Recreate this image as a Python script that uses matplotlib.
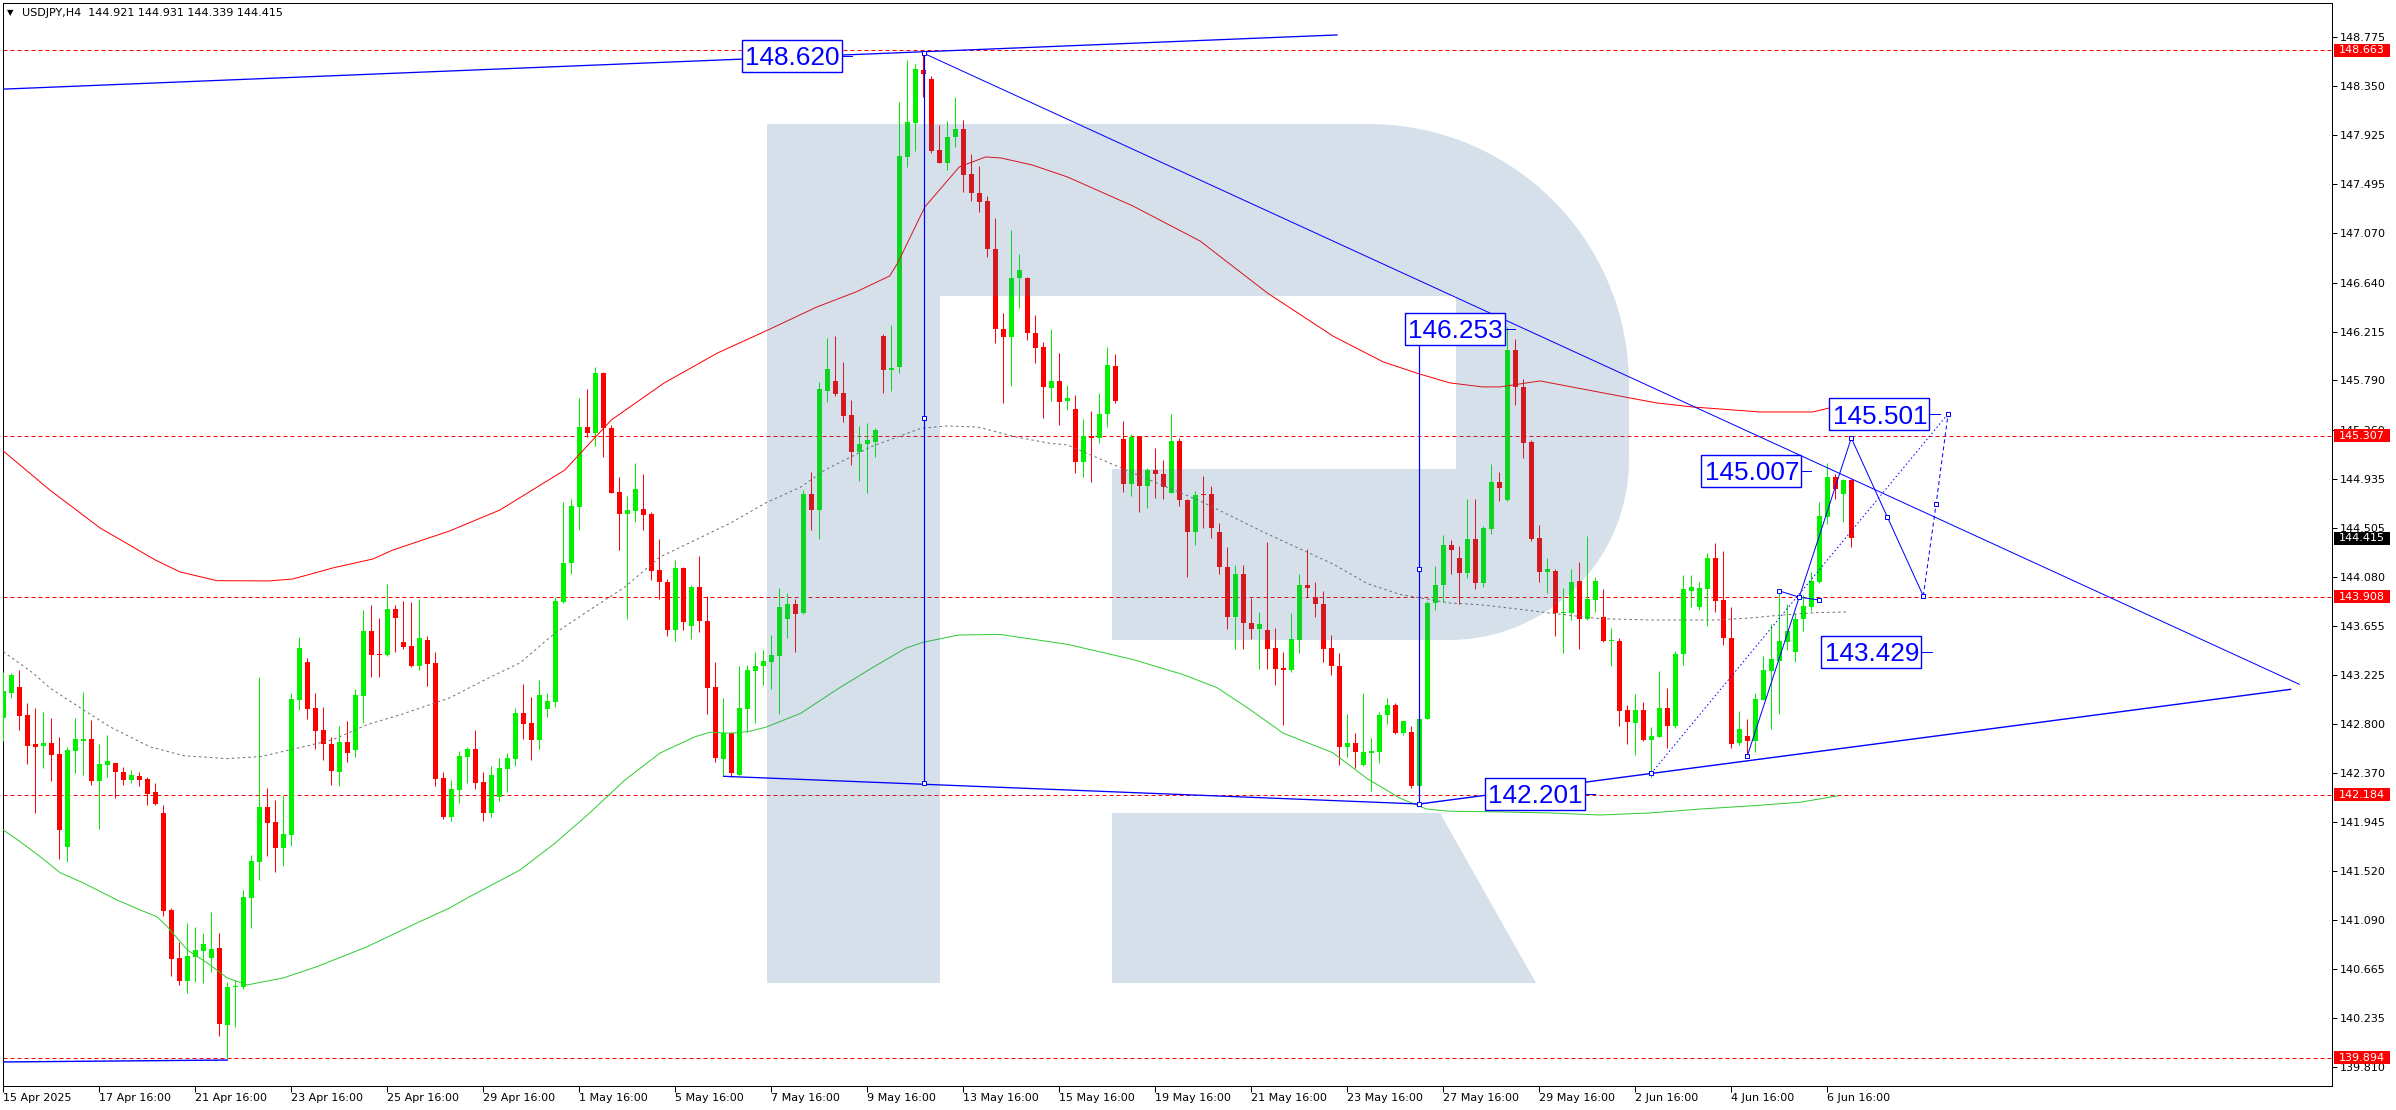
import numpy as np
import matplotlib
matplotlib.use("Agg")
import matplotlib.pyplot as plt
import matplotlib.transforms as mtransforms
from matplotlib.patches import Rectangle, PathPatch
from matplotlib.path import Path

# ---------------- data (USDJPY, H4) ----------------
opens = [
    142.853, 143.071, 143.120, 142.877, 142.624, 142.610, 142.636, 142.537, 141.730, 142.563,
    142.650, 142.668, 142.305, 142.441, 142.459, 142.380, 142.314, 142.346, 142.320, 142.206,
    142.024, 141.179, 140.764, 140.561, 140.773, 140.822, 140.764, 140.851, 140.181, 140.506,
    140.512, 141.286, 141.600, 142.076, 141.945, 141.722, 141.832, 143.007, 143.338, 142.938,
    142.746, 142.624, 142.383, 142.642, 142.572, 143.045, 143.611, 143.408, 143.396, 143.800,
    143.515, 143.477, 143.306, 143.530, 143.329, 142.328, 141.992, 142.224, 142.514, 142.581,
    142.294, 142.027, 142.160, 142.410, 142.497, 142.895, 142.808, 142.662, 142.932, 142.993,
    143.858, 144.200, 144.690, 145.387, 145.329, 145.857, 145.378, 144.818, 144.630, 144.653,
    144.671, 144.627, 144.139, 144.035, 143.620, 144.157, 143.655, 143.991, 143.695, 143.121,
    142.497, 142.718, 142.358, 142.929, 143.263, 143.307, 143.341, 143.394, 143.713, 143.843,
    143.765, 144.801, 144.661, 145.700, 145.784, 145.677, 145.488, 145.169, 145.233, 145.256,
    146.176, 145.880, 145.909, 147.737, 148.033, 148.492, 148.413, 147.795, 147.685, 147.906,
    147.978, 147.586, 147.418, 147.351, 146.936, 146.234, 146.170, 146.678, 146.684, 146.199,
    146.077, 145.727, 145.784, 145.606, 145.542, 145.078, 145.305, 145.289, 145.493, 145.916,
    145.282, 144.889, 145.305, 144.867, 145.010, 144.976, 144.806, 145.259, 144.746, 144.466,
    144.802, 144.802, 144.466, 144.164, 143.727, 144.104, 143.674, 143.625, 143.613, 143.462,
    143.289, 143.266, 143.530, 144.010, 143.900, 143.847, 143.462, 143.304, 142.594, 142.636,
    142.443, 142.549, 142.556, 142.881, 142.964, 142.719, 142.730, 142.262, 142.843, 143.851,
    144.010, 144.361, 144.240, 144.110, 144.406, 144.029, 144.499, 144.905, 144.748, 146.050,
    145.735, 145.256, 144.418, 144.124, 144.133, 143.762, 143.762, 144.043, 143.712, 143.878,
    143.727, 143.524, 143.521, 142.920, 142.810, 142.920, 142.659, 142.688, 142.937, 142.784,
    143.405, 143.959, 143.820, 143.974, 144.246, 143.878, 143.550, 142.630, 142.697, 142.653,
    143.007, 143.263, 143.347, 143.515, 143.428, 143.710, 143.820, 144.037, 144.603, 144.951,
    144.802, 144.921]
highs = [
    143.248, 143.245, 143.268, 142.981, 142.940, 142.903, 142.851, 142.685, 142.601, 142.851,
    143.077, 142.833, 142.624, 142.703, 142.459, 142.424, 142.398, 142.383, 142.340, 142.282,
    142.090, 141.193, 140.903, 141.063, 141.031, 140.976, 141.162, 140.976, 140.555, 140.570,
    141.353, 141.658, 143.207, 142.238, 142.137, 142.177, 143.065, 143.553, 143.376, 143.065,
    142.949, 142.682, 142.781, 142.822, 143.103, 143.791, 143.834, 143.721, 144.020, 143.834,
    143.869, 143.863, 143.889, 143.565, 143.425, 142.383, 142.311, 142.567, 142.601, 142.747,
    142.381, 142.436, 142.506, 142.543, 142.935, 143.147, 143.034, 143.182, 143.069, 143.902,
    144.731, 144.760, 145.633, 145.715, 145.903, 145.860, 145.401, 144.951, 144.786, 145.067,
    144.975, 144.640, 144.409, 144.061, 144.227, 144.169, 144.009, 144.261, 143.913, 143.339,
    143.025, 142.729, 143.304, 143.313, 143.426, 143.443, 143.576, 143.983, 143.939, 143.887,
    144.836, 144.995, 145.779, 146.159, 146.179, 145.950, 145.619, 145.392, 145.416, 145.372,
    146.194, 146.272, 148.216, 148.579, 148.541, 148.663, 148.442, 148.013, 148.051, 148.257,
    148.057, 147.760, 147.656, 147.395, 147.200, 146.373, 147.099, 146.890, 146.693, 146.359,
    146.127, 146.237, 146.029, 145.750, 145.663, 145.456, 145.520, 145.682, 146.082, 146.022,
    145.433, 145.323, 145.305, 145.029, 145.199, 145.093, 145.497, 145.286, 144.753, 144.825,
    144.957, 144.870, 144.549, 144.342, 144.180, 144.180, 143.893, 143.776, 144.383, 143.636,
    143.424, 143.764, 144.104, 144.323, 144.032, 143.953, 143.576, 143.417, 142.888, 142.719,
    143.070, 142.673, 142.907, 143.021, 142.983, 142.821, 142.783, 142.858, 143.870, 144.172,
    144.444, 144.400, 144.351, 144.757, 144.757, 144.525, 145.062, 144.992, 146.253, 146.150,
    145.800, 145.271, 144.528, 144.241, 144.148, 143.979, 144.148, 144.211, 144.435, 144.075,
    143.974, 143.634, 143.547, 142.964, 143.059, 142.990, 142.775, 143.260, 143.109, 143.434,
    144.092, 144.092, 144.037, 144.290, 144.371, 144.301, 143.814, 142.911, 142.842, 143.065,
    143.390, 143.669, 143.959, 143.843, 143.762, 143.924, 144.124, 144.728, 145.073, 144.972,
    144.934, 144.931]
lows = [
    142.653, 143.028, 142.746, 142.453, 142.024, 142.415, 142.305, 141.623, 141.597, 142.375,
    142.351, 142.267, 141.887, 142.340, 142.157, 142.270, 142.285, 142.261, 142.096, 142.093,
    141.130, 140.607, 140.526, 140.460, 140.552, 140.547, 140.642, 140.085, 139.894, 140.158,
    140.494, 141.025, 141.443, 141.652, 141.513, 141.565, 141.739, 142.923, 142.845, 142.581,
    142.488, 142.267, 142.261, 142.468, 142.514, 142.807, 143.210, 143.207, 143.390, 143.425,
    143.454, 143.297, 143.268, 143.132, 142.261, 141.974, 141.950, 142.114, 142.288, 142.236,
    141.957, 141.992, 142.131, 142.210, 142.436, 142.671, 142.488, 142.584, 142.860, 142.947,
    143.852, 144.108, 144.491, 145.300, 145.221, 145.126, 144.806, 144.316, 143.716, 144.560,
    144.491, 144.050, 143.884, 143.562, 143.524, 143.617, 143.542, 143.603, 142.886, 142.468,
    142.343, 142.340, 142.352, 142.732, 142.808, 143.141, 143.103, 142.889, 143.550, 143.426,
    143.756, 144.491, 144.412, 145.604, 145.657, 145.430, 145.053, 144.917, 144.806, 145.126,
    145.683, 145.700, 145.857, 147.644, 147.790, 148.260, 147.772, 147.679, 147.621, 147.824,
    147.433, 147.354, 147.258, 146.861, 146.112, 145.590, 145.741, 146.423, 146.141, 145.938,
    145.465, 145.614, 145.399, 145.531, 144.984, 144.946, 144.904, 145.248, 145.388, 145.595,
    144.821, 144.784, 144.644, 144.678, 144.769, 144.761, 144.806, 144.693, 144.078, 144.353,
    144.504, 144.417, 144.108, 143.628, 143.447, 143.455, 143.542, 143.274, 143.274, 143.134,
    142.794, 143.247, 143.417, 143.900, 143.727, 143.341, 143.221, 142.443, 142.511, 142.417,
    142.436, 142.217, 142.462, 142.802, 142.707, 142.700, 142.239, 142.140, 142.843, 143.794,
    143.863, 144.100, 143.843, 144.066, 143.974, 143.994, 144.450, 144.737, 144.740, 145.575,
    145.117, 144.394, 144.032, 143.942, 143.564, 143.419, 143.704, 143.454, 143.704, 143.776,
    143.512, 143.306, 142.781, 142.621, 142.528, 142.650, 142.340, 142.682, 142.592, 142.760,
    143.312, 143.820, 143.791, 143.654, 143.776, 143.486, 142.592, 142.615, 142.528, 142.557,
    143.007, 142.758, 142.882, 143.442, 143.341, 143.611, 143.782, 144.023, 144.537, 144.758,
    144.560, 144.339]
closes = [
    143.086, 143.225, 142.871, 142.610, 142.601, 142.633, 142.531, 141.878, 142.572, 142.665,
    142.668, 142.305, 142.450, 142.476, 142.383, 142.314, 142.351, 142.314, 142.192, 142.102,
    141.173, 140.755, 140.564, 140.779, 140.831, 140.883, 140.842, 140.184, 140.506, 140.517,
    141.289, 141.606, 142.076, 141.939, 141.722, 141.841, 143.016, 143.460, 142.929, 142.737,
    142.624, 142.389, 142.642, 142.549, 143.051, 143.611, 143.402, 143.396, 143.800, 143.724,
    143.469, 143.303, 143.547, 143.324, 142.322, 141.986, 142.233, 142.520, 142.581, 142.288,
    142.027, 142.355, 142.416, 142.503, 142.895, 142.802, 142.660, 143.051, 142.999, 143.870,
    144.200, 144.697, 145.387, 145.335, 145.857, 145.372, 144.812, 144.624, 144.662, 144.845,
    144.621, 144.134, 144.038, 143.620, 144.157, 143.690, 143.991, 143.698, 143.115, 142.506,
    142.718, 142.375, 142.938, 143.269, 143.304, 143.347, 143.402, 143.817, 143.843, 143.759,
    144.801, 144.665, 145.712, 145.889, 145.668, 145.480, 145.169, 145.236, 145.271, 145.358,
    145.880, 145.900, 147.743, 148.039, 148.500, 148.454, 147.790, 147.685, 147.908, 147.978,
    147.578, 147.424, 147.346, 146.931, 146.234, 146.170, 146.681, 146.751, 146.199, 146.075,
    145.735, 145.784, 145.599, 145.637, 145.078, 145.305, 145.289, 145.501, 145.924, 145.606,
    144.889, 145.301, 144.867, 145.010, 144.972, 144.863, 145.259, 144.746, 144.466, 144.795,
    144.791, 144.504, 144.161, 143.727, 144.104, 143.674, 143.625, 143.666, 143.455, 143.281,
    143.270, 143.538, 144.010, 143.983, 143.847, 143.455, 143.304, 142.594, 142.636, 142.556,
    142.556, 142.560, 142.881, 142.964, 142.719, 142.821, 142.262, 142.843, 143.851, 144.010,
    144.361, 144.313, 144.110, 144.406, 144.023, 144.507, 144.905, 144.856, 146.050, 145.735,
    145.247, 144.409, 144.124, 144.148, 143.762, 143.767, 144.037, 143.712, 143.884, 144.043,
    143.524, 143.530, 142.911, 142.819, 142.920, 142.659, 142.694, 142.937, 142.784, 143.405,
    143.974, 143.994, 143.982, 144.240, 143.872, 143.544, 142.624, 142.752, 142.653, 143.016,
    143.268, 143.361, 143.521, 143.608, 143.715, 143.826, 144.043, 144.609, 144.951, 144.846,
    144.919, 144.415]

# moving averages (bar index, price)
red_ma_x = [0, 5.8, 12.1, 19, 22.1, 26.7, 33.3, 36.2, 41.2, 46.2,
            48.7, 55.8, 62.1, 70.2, 76, 82.6, 89.3, 95.6, 101.7, 106.6,
            110.8, 111.8, 115.2, 119.5, 122.8, 124.7, 128.6, 133, 141.2, 149.6,
            158, 166.2, 172.5, 177, 180.8, 184.9, 187.1, 192.1, 203.3, 206.7,
            211.2, 219.6, 226.2, 228.3]
red_ma_y = [145.175, 144.836, 144.505, 144.226, 144.122, 144.046, 144.044, 144.061, 144.157, 144.235,
            144.313, 144.479, 144.662, 145.010, 145.445, 145.767, 146.029, 146.229, 146.429, 146.560,
            146.699, 146.812, 147.300, 147.648, 147.735, 147.726, 147.665, 147.561, 147.308, 147.003,
            146.551, 146.176, 145.950, 145.846, 145.768, 145.733, 145.733, 145.785, 145.637, 145.593,
            145.558, 145.515, 145.515, 145.550]
gray_ma_x = [0, 3.7, 5.8, 10, 13.3, 18.3, 22.5, 27.9, 32.1, 37.1,
             41.2, 45.5, 49.6, 55.8, 60.2, 64.6, 69, 73.3, 77.7, 82.1,
             86.5, 90.9, 95.3, 99.7, 102.7, 108.5, 114.7, 118, 121.8, 126.6,
             130.8, 133, 141.2, 149.6, 158, 166.2, 170.5, 174.6, 180.8, 184.9,
             189.2, 193.3, 199.6, 205.8, 214.2, 218.3, 222.4, 226.7, 230.6]
gray_ma_y = [143.428, 143.243, 143.113, 142.922, 142.775, 142.601, 142.523, 142.497, 142.514, 142.593,
             142.662, 142.793, 142.878, 143.026, 143.183, 143.331, 143.592, 143.791, 143.991, 144.253,
             144.400, 144.548, 144.723, 144.862, 145.010, 145.213, 145.373, 145.393, 145.384, 145.297,
             145.242, 145.228, 144.984, 144.740, 144.453, 144.192, 144.021, 143.926, 143.852, 143.835,
             143.800, 143.765, 143.715, 143.704, 143.704, 143.721, 143.748, 143.768, 143.774]
green_ma_x = [0, 2.1, 4.6, 7.1, 10, 14.2, 17.1, 19.2, 20.5, 23,
              25.5, 28, 30.5, 35, 39.2, 45.5, 51.7, 55.8, 58, 64.6,
              69, 73.3, 77.7, 82.1, 86.5, 88.3, 90.9, 93.1, 95.3, 99.7,
              104.1, 108.5, 112.8, 115, 119.4, 124.6, 133, 141.2, 147.5, 151.7,
              155.8, 160, 166.2, 170.5, 174.6, 177.9, 180.8, 187.1, 193.3, 199.6,
              205.8, 212.1, 218.3, 224.6, 229.3]
green_ma_y = [141.876, 141.774, 141.644, 141.504, 141.415, 141.267, 141.180, 141.121, 141.034, 140.831,
              140.718, 140.588, 140.527, 140.588, 140.686, 140.860, 141.066, 141.197, 141.284, 141.528,
              141.763, 142.024, 142.311, 142.546, 142.688, 142.726, 142.718, 142.732, 142.770, 142.892,
              143.095, 143.283, 143.458, 143.510, 143.573, 143.578, 143.492, 143.360, 143.228, 143.115,
              142.926, 142.718, 142.548, 142.322, 142.152, 142.058, 142.039, 142.033, 142.024, 142.006,
              142.024, 142.058, 142.085, 142.117, 142.173]

levels = [148.663, 145.307, 143.908, 142.184, 139.894]
last_price = 144.415
price_ticks = [148.775, 148.350, 147.925, 147.495, 147.070, 146.640, 146.215, 145.790, 145.360,
               144.935, 144.505, 144.080, 143.655, 143.225, 142.800, 142.370, 141.945, 141.520,
               141.090, 140.665, 140.235, 139.810]
date_labels = ["15 Apr 2025", "17 Apr 16:00", "21 Apr 16:00", "23 Apr 16:00", "25 Apr 16:00",
               "29 Apr 16:00", "1 May 16:00", "5 May 16:00", "7 May 16:00", "9 May 16:00",
               "13 May 16:00", "15 May 16:00", "19 May 16:00", "21 May 16:00", "23 May 16:00",
               "27 May 16:00", "29 May 16:00", "2 Jun 16:00", "4 Jun 16:00", "6 Jun 16:00"]
date_pos = list(range(0, 229, 12))

# analyst drawings (bar index, price)
top_line = ([-0.41, 166.7], [148.324, 148.797])
down_line = ([115.06, 287.0], [148.637, 143.144])
support_line = ([90.04, 177.0], [142.343, 142.102])
rising_line = ([177.0, 285.9], [142.102, 143.100])
bottom_line = ([-0.41, 28.0], [139.856, 139.873])
zigzag = ([218.0, 231.0, 235.5, 240.0], [142.520, 145.288, 144.601, 143.913])
dash_leg = ([240.0, 241.6, 243.1], [143.913, 144.714, 145.499])
dotted_leg = ([206.0, 243.1], [142.370, 145.499])
small_leg = ([222.0, 224.5, 227.0], [143.957, 143.902, 143.878])
box_text = ["148.620", "146.253", "145.501", "145.007", "143.429", "142.201"]
box_x = [92.29, 175.2, 228.25, 212.2, 227.25, 185.2]
box_y = [148.612, 146.239, 145.494, 145.000, 143.424, 142.191]

# ---------------- drawing ----------------
W, H = 2396, 1110
PX = 0.72                      # one pixel in points at dpi 100
PP = 1 / 114.87                # price per pixel
BULL, BEAR, BLUE = "#00f000", "#ff0000", "#0000ff"

fig = plt.figure(figsize=(W / 100, H / 100), dpi=100, facecolor="white")
l_px, r_px, t_px, b_px = 2.7, 2332, 3, 1086
ax = fig.add_axes([l_px / W, 1 - b_px / H, (r_px - l_px) / W, (b_px - t_px) / H])
ax.set_xlim((l_px - 3.3) / 8, (r_px - 3.3) / 8)
ax.set_ylim(139.647, 149.075)
px_tr = mtransforms.Affine2D().scale(1 / W, -1 / H).translate(0, 1) + fig.transFigure
xpx_data = mtransforms.blended_transform_factory(
    mtransforms.Affine2D().scale(1 / W, 1) + fig.transFigure, ax.transData)

o, h, lo, c = map(np.array, (opens, highs, lows, closes))
idx = np.arange(len(o))
col = np.where(c >= o, BULL, BEAR)
ax.vlines(idx, lo, h, colors=col, lw=PX, zorder=3)
ax.bar(idx, np.maximum(np.abs(c - o), 0.009), bottom=np.minimum(o, c), width=0.625,
       color=col, lw=0, zorder=3)

ax.plot(red_ma_x, red_ma_y, color="#ff0000", lw=PX, zorder=3.5)
ax.plot(green_ma_x, green_ma_y, color="#32cd32", lw=PX, zorder=3.5)
ax.plot(gray_ma_x, gray_ma_y, color="#707070", lw=PX, dashes=(2.5, 3), zorder=3.5)
for lv in levels:
    ax.axhline(lv, color="#ff0000", lw=PX, dashes=(4, 3), zorder=2.5)

# watermark "R"
def corner(cx, cy, r, a0, a1):
    t = np.radians(np.linspace(a0, a1, 30))
    return [(cx + r * np.cos(a), cy - r * np.sin(a)) for a in t]

outer = [(767, 983), (767, 124), (1369, 124)] + corner(1369, 384, 260, 90, 0) + \
        [(1629, 460)] + corner(1449, 460, 180, 0, -90) + \
        [(1112, 640), (1112, 469), (1456, 469), (1456, 296), (940, 296), (940, 983), (767, 983)]
leg = [(1112, 813), (1440, 813), (1536, 983), (1112, 983), (1112, 813)]
verts = outer + leg
codes = [Path.MOVETO] + [Path.LINETO] * (len(outer) - 2) + [Path.CLOSEPOLY] + \
        [Path.MOVETO] + [Path.LINETO] * 3 + [Path.CLOSEPOLY]
ax.add_patch(PathPatch(Path(verts, codes), transform=px_tr, fc=(0.25, 0.447, 0.627),
                       alpha=0.22, ec="none", zorder=4))

# blue drawings
ax.plot(*top_line, color=BLUE, lw=1.3 * PX, zorder=6)
ax.plot(*down_line, color=BLUE, lw=PX, zorder=6)
ax.plot(*support_line, color=BLUE, lw=1.3 * PX, zorder=6)
ax.plot(*rising_line, color=BLUE, lw=1.4 * PX, zorder=6)
ax.plot(*bottom_line, color=BLUE, lw=1.4 * PX, zorder=6)
ax.plot([115.05, 115.05], [142.282, 148.637], color=BLUE, lw=1.2 * PX, zorder=6)
ax.plot([177.0, 177.0], [142.102, 146.203], color=BLUE, lw=1.2 * PX, zorder=6)
ax.plot(*zigzag, color=BLUE, lw=PX, zorder=6)
ax.plot(*dash_leg, color=BLUE, lw=PX, dashes=(4, 3), zorder=6)
ax.plot(*dotted_leg, color=BLUE, lw=PX, dashes=(1.5, 2.5), zorder=6)
ax.plot(*small_leg, color=BLUE, lw=PX, zorder=6)
mk = dict(ls="none", marker="s", ms=3.2, mfc="white", mec=BLUE, mew=PX, zorder=7)
ax.plot([115.05] * 3, [148.637, 145.460, 142.282], **mk)
ax.plot([177.0] * 2, [142.102, 144.152], **mk)
ax.plot(*zigzag, **mk)
ax.plot(dash_leg[0][1:], dash_leg[1][1:], **mk)
ax.plot(*small_leg, **mk)
ax.plot([206.0], [142.370], **mk)

for txt, bx, by in zip(box_text, box_x, box_y):
    ax.add_patch(Rectangle((bx, by - 16 * PP), 12.5, 32 * PP, fc="white", ec=BLUE,
                           lw=1.4 * PX, zorder=8))
    ax.text(bx + 0.45, by - 9.3 * PP, txt, fontsize=18.8, family="Liberation Sans",
            color=BLUE, ha="left", va="baseline", zorder=9)
    ax.plot([bx + 12.5, bx + 13.8], [by, by], color=BLUE, lw=PX, zorder=8)

# axes frame and ticks
for sp in ax.spines.values():
    sp.set_color("black")
    sp.set_linewidth(PX)
ax.yaxis.tick_right()
ax.set_yticks(price_ticks)
ax.set_yticklabels([f"{v:.3f}" for v in price_ticks])
ax.set_xticks(date_pos)
ax.set_xticklabels(date_labels, ha="left")
ax.tick_params(axis="y", direction="out", length=3.5, width=PX, pad=2.2, labelsize=8,
               colors="black")
ax.tick_params(axis="x", direction="out", length=4.3, width=PX, pad=0.6, labelsize=8,
               colors="black")

for lv in levels:
    ax.add_patch(Rectangle((2334, lv - 6.5 * PP), 56, 13 * PP, transform=xpx_data,
                           fc="#ff0000", ec="none", clip_on=False, zorder=10))
    ax.text(2339, lv, f"{lv:.3f}", transform=xpx_data, color="white", fontsize=8,
            va="center", ha="left", clip_on=False, zorder=11)
ax.add_patch(Rectangle((2334, last_price - 6.5 * PP), 56, 13 * PP, transform=xpx_data,
                       fc="black", ec="none", clip_on=False, zorder=10))
ax.text(2339, last_price, f"{last_price:.3f}", transform=xpx_data, color="white",
        fontsize=8, va="center", ha="left", clip_on=False, zorder=11)

fig.text(7 / W, 1 - 13 / H, "\u25bc", fontsize=6, va="center", ha="left")
fig.text(22 / W, 1 - 13 / H, "USDJPY,H4  144.921 144.931 144.339 144.415", fontsize=8,
         va="center", ha="left")

fig.savefig("out.png", dpi=100, facecolor="white")
